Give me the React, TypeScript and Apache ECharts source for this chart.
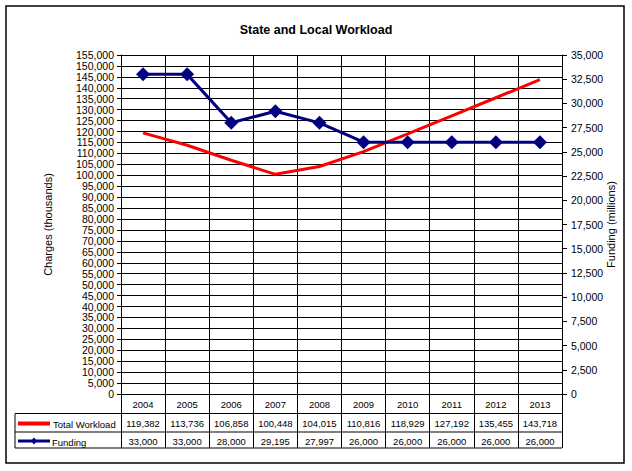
import React, { useEffect, useRef } from "react";
import * as echarts from "echarts";

const years = ["2004", "2005", "2006", "2007", "2008", "2009", "2010", "2011", "2012", "2013"];
const totalWorkload = [119382, 113736, 106858, 100448, 104015, 110816, 118929, 127192, 135455, 143718];
const funding = [33000, 33000, 28000, 29195, 27997, 26000, 26000, 26000, 26000, 26000];
const seriesNames = ["Total Workload", "Funding"];
const seriesColors = ["#FF0000", "#000080"];
const titleText = "State and Local Workload";
const leftAxisName = "Charges (thousands)";
const rightAxisName = "Funding (millions)";

const fmt = (v: number) => v.toLocaleString("en-US");
const FONT = "Arial, 'Liberation Sans', sans-serif";

export default function App() {
  const ref = useRef<HTMLDivElement>(null);
  useEffect(() => {
    const chart = echarts.init(ref.current!, undefined, { renderer: "svg" });
    const black = "#000";
    const L = 121, R = 562, T = 55, B = 394;
    const tableLine = (x1: number, y1: number, x2: number, y2: number) => ({
      type: "line",
      shape: { x1, y1, x2, y2 },
      style: { stroke: black, lineWidth: 1 },
      silent: true,
    });
    const rowLabel = { margin: 4, fontSize: 9.5, color: black, fontFamily: FONT, interval: 0 };
    chart.setOption({
      animation: false,
      backgroundColor: "#fff",
      textStyle: { fontFamily: FONT },
      title: {
        text: titleText,
        left: "center",
        top: 18,
        textStyle: { fontSize: 12.5, fontWeight: "bold", color: black, fontFamily: FONT },
      },
      grid: { left: L, right: 632 - R, top: T, bottom: 471 - B },
      xAxis: [
        {
          type: "category",
          data: years,
          position: "bottom",
          axisLine: { lineStyle: { color: black, width: 1 } },
          axisTick: { show: true, length: 54, lineStyle: { color: black } },
          axisLabel: { margin: 5, fontSize: 9.5, color: black, fontFamily: FONT, interval: 0 },
          splitLine: { show: true, lineStyle: { color: black, width: 1 } },
        },
        {
          type: "category",
          data: totalWorkload.map(fmt),
          position: "bottom",
          offset: 20,
          axisLine: { show: false },
          axisTick: { show: false },
          axisLabel: rowLabel,
          splitLine: { show: false },
        },
        {
          type: "category",
          data: funding.map(fmt),
          position: "bottom",
          offset: 38,
          axisLine: { show: false },
          axisTick: { show: false },
          axisLabel: rowLabel,
          splitLine: { show: false },
        },
      ],
      yAxis: [
        {
          type: "value",
          min: 0,
          max: 155000,
          interval: 5000,
          position: "left",
          name: leftAxisName,
          nameLocation: "middle",
          nameRotate: 90,
          nameGap: 68,
          nameMoveOverlap: false,
          nameTextStyle: { fontSize: 11, color: black, fontFamily: FONT },
          axisLine: { show: true, lineStyle: { color: black } },
          axisTick: { show: true, length: 4, lineStyle: { color: black } },
          axisLabel: { formatter: (v: number) => fmt(v), fontSize: 10.5, color: black, margin: 7, fontFamily: FONT },
          splitLine: { show: true, lineStyle: { color: black, width: 1 } },
        },
        {
          type: "value",
          min: 0,
          max: 35000,
          interval: 2500,
          position: "right",
          name: rightAxisName,
          nameLocation: "middle",
          nameRotate: 90,
          nameGap: 43,
          nameMoveOverlap: false,
          nameTextStyle: { fontSize: 11, color: black, fontFamily: FONT },
          axisLine: { show: true, lineStyle: { color: black } },
          axisTick: { show: true, length: 5, lineStyle: { color: black } },
          axisLabel: { formatter: (v: number) => fmt(v), fontSize: 10.5, color: black, margin: 9, fontFamily: FONT },
          splitLine: { show: false },
        },
      ],
      series: [
        {
          name: seriesNames[0],
          type: "line",
          xAxisIndex: 0,
          yAxisIndex: 0,
          data: totalWorkload,
          symbol: "none",
          color: seriesColors[0],
          lineStyle: { color: seriesColors[0], width: 3 },
          z: 3,
        },
        {
          name: seriesNames[1],
          type: "line",
          xAxisIndex: 0,
          yAxisIndex: 1,
          data: funding,
          symbol: "diamond",
          symbolSize: 14,
          color: seriesColors[1],
          itemStyle: { color: seriesColors[1] },
          lineStyle: { color: seriesColors[1], width: 3 },
          z: 4,
        },
      ],
      graphic: [
        {
          type: "rect",
          shape: { x: 6, y: 6, width: 618, height: 457 },
          style: { fill: "none", stroke: black, lineWidth: 1.5 },
          silent: true,
          z: -1,
        },
        tableLine(15, 413.5, R, 413.5),
        tableLine(15, 432, R, 432),
        tableLine(15, 448, R, 448),
        tableLine(15, 413.5, 15, 448),
        {
          type: "line",
          shape: { x1: 18, y1: 423.5, x2: 50, y2: 423.5 },
          style: { stroke: seriesColors[0], lineWidth: 4 },
          silent: true,
        },
        {
          type: "text",
          x: 53,
          y: 424,
          style: { text: seriesNames[0], fontSize: 9.5, fill: black, fontFamily: FONT, verticalAlign: "middle" },
          silent: true,
        },
        {
          type: "line",
          shape: { x1: 18, y1: 441, x2: 50, y2: 441 },
          style: { stroke: seriesColors[1], lineWidth: 3 },
          silent: true,
        },
        {
          type: "polygon",
          shape: { points: [[34, 437.5], [37, 441], [34, 444.5], [31, 441]] },
          style: { fill: seriesColors[1] },
          silent: true,
        },
        {
          type: "text",
          x: 52,
          y: 442,
          style: { text: seriesNames[1], fontSize: 9.5, fill: black, fontFamily: FONT, verticalAlign: "middle" },
          silent: true,
        },
      ],
    });
    return () => chart.dispose();
  }, []);
  return (
    <div style={{ position: "fixed", left: 0, top: 0, width: 632, height: 471, background: "#fff" }}>
      <div ref={ref} style={{ width: 632, height: 471 }} />
    </div>
  );
}
